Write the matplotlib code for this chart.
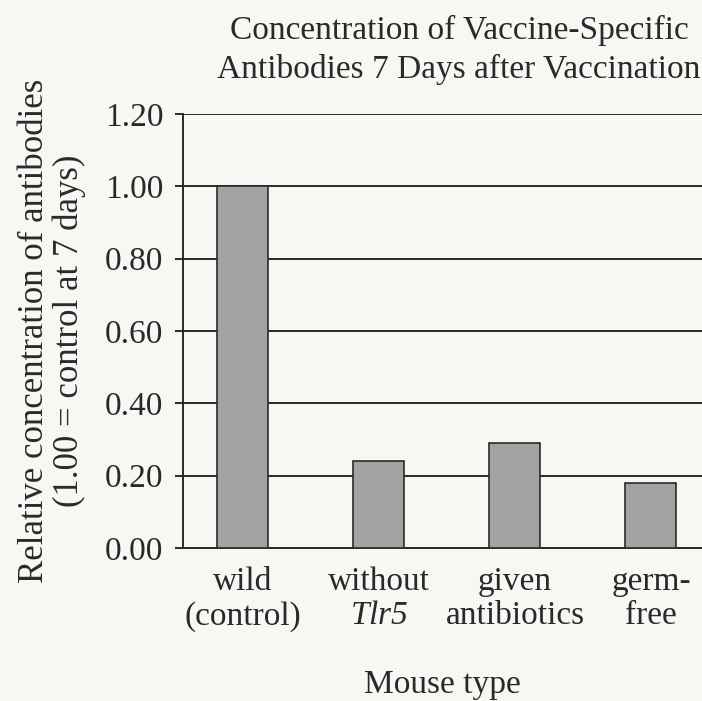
import matplotlib
matplotlib.use('Agg')
import matplotlib.pyplot as plt

# data
mouse_types = ['wild\n(control)', 'without\n$Tlr5$', 'given\nantibiotics', 'germ-\nfree']
rel_conc = [1.00, 0.24, 0.29, 0.18]
y_ticks = [0.00, 0.20, 0.40, 0.60, 0.80, 1.00, 1.20]

plt.rcParams['font.family'] = 'Liberation Serif'
# only the Tlr5 gene name goes through mathtext, so make it all italic
plt.rcParams['mathtext.fontset'] = 'custom'
plt.rcParams['mathtext.it'] = 'Liberation Serif:italic'
plt.rcParams['mathtext.rm'] = 'Liberation Serif:italic'

paper = '#f7f7f4'
ink = '#2a2a2a'
fs = 24

fig = plt.figure(figsize=(7.02, 7.01), dpi=100, facecolor=paper)
# axes box in pixels: left 183, right past the page edge, 0.00 at y=548, 1.20 at y=114
W, H = 702.0, 701.0
ax = fig.add_axes([183 / W, (H - 548) / H, (702 - 183) / W, (548 - 114) / H])
ax.set_facecolor(paper)

x = range(len(mouse_types))
ax.set_axisbelow(True)
ax.yaxis.grid(True, color=ink, linewidth=1.4)
ax.bar(x, rel_conc, width=0.375, color='#a3a3a3', edgecolor=ink, linewidth=1.2, zorder=3)

ax.set_ylim(0, 1.20)
ax.set_xlim(-0.44, 3.375)
ax.set_yticks(y_ticks)
ax.set_yticklabels(['%.2f' % v for v in y_ticks], fontsize=fs, color=ink)
ax.set_xticks(list(x))
ax.set_xticklabels(mouse_types, fontsize=fs, color=ink, linespacing=1.18)
ax.tick_params(axis='y', length=5.8, width=1.4, color=ink, pad=8.5)
ax.tick_params(axis='x', length=0, pad=13)

for s in ['top', 'right']:
    ax.spines[s].set_visible(False)
ax.spines['left'].set_color(ink)
ax.spines['left'].set_linewidth(1.4)
ax.spines['bottom'].set_color(ink)
ax.spines['bottom'].set_linewidth(1.4)

fig.text(459 / W, 1 - 39 / H, 'Concentration of Vaccine-Specific',
         ha='center', va='baseline', fontsize=fs, color=ink)
fig.text(459 / W, 1 - 78 / H, 'Antibodies 7 Days after Vaccination',
         ha='center', va='baseline', fontsize=fs, color=ink)
fig.text(35 / W, 1 - 331 / H, 'Relative concentration of antibodies', rotation=90,
         ha='center', va='center', fontsize=25, color=ink)
fig.text(69 / W, 1 - 331 / H, '(1.00 = control at 7 days)', rotation=90,
         ha='center', va='center', fontsize=25, color=ink)
fig.text(442 / W, 1 - 693 / H, 'Mouse type', ha='center', va='baseline', fontsize=fs, color=ink)

plt.savefig('out.png', dpi=100, facecolor=paper)
